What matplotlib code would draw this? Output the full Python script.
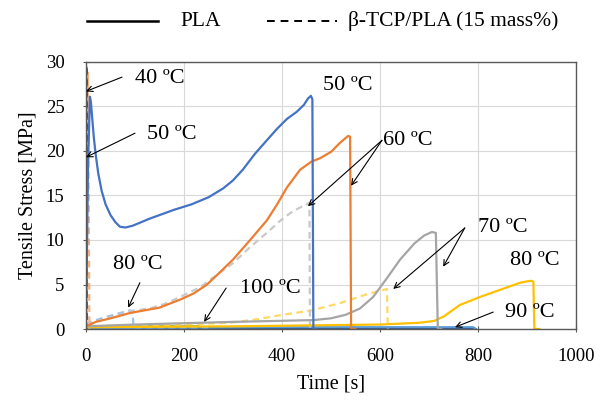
import matplotlib
matplotlib.use('Agg')
import matplotlib.pyplot as plt
from matplotlib.lines import Line2D

plt.rcParams['font.family'] = ['Liberation Serif', 'DejaVu Serif']

# PLA (solid lines)
pla50_t = [0, 4, 8, 10, 13, 16, 20, 25, 32, 40, 50, 60, 69, 80, 95, 130, 180, 215, 250, 280,
           300, 320, 345, 369, 390, 410, 430, 445, 453, 459, 462, 464, 470]
pla50_y = [0, 18, 26.1, 25.5, 23.5, 21.5, 19.5, 17.5, 15.5, 14.0, 12.8, 12.0, 11.5, 11.4, 11.6, 12.4, 13.4, 14.0, 14.8, 15.8,
           16.7, 17.9, 19.7, 21.2, 22.5, 23.6, 24.4, 25.2, 25.9, 26.2, 25.8, 0, 0]
pla60_t = [0, 20, 50, 90, 150, 192, 220, 247, 270, 300, 335, 369, 390, 410, 437, 460, 478, 500, 518, 535, 539, 541, 550]
pla60_y = [0.3, 0.8, 1.2, 1.8, 2.4, 3.3, 4.0, 5.0, 6.2, 7.8, 10.0, 12.2, 14.0, 15.9, 17.9, 18.8, 19.2, 19.9, 20.9, 21.7, 21.6, 0, 0]
pla70_t = [0, 100, 300, 464, 500, 530, 559, 586, 614, 641, 670, 690, 706, 714, 718, 725]
pla70_y = [0.3, 0.5, 0.8, 1.0, 1.2, 1.6, 2.3, 3.6, 5.7, 7.8, 9.6, 10.5, 10.9, 10.8, 0, 0]
pla80_t = [0, 300, 600, 680, 710, 730, 763, 804, 845, 886, 905, 910, 913, 915, 925]
pla80_y = [0.2, 0.3, 0.5, 0.7, 0.9, 1.4, 2.7, 3.6, 4.4, 5.2, 5.4, 5.4, 5.3, 0, 0]
pla90_t = [0, 200, 400, 600, 790, 795]
pla90_y = [0.1, 0.15, 0.2, 0.2, 0.2, 0]
pla100_t = [0, 100, 230, 235]
pla100_y = [0.2, 0.3, 0.3, 0]
pla40_t = [0, 300, 600, 790, 795]
pla40_y = [0.05, 0.1, 0.1, 0.1, 0]

# beta-TCP/PLA 15 mass% (dashed lines)
tcp40_t = [0, 1, 2]
tcp40_y = [0, 29.6, 0]
tcp50_t = [0, 4, 7]
tcp50_y = [0, 28.8, 0]
tcp60_t = [0, 30, 60, 90, 130, 160, 192, 233, 265, 300, 335, 369, 395, 416, 435, 451, 456, 457]
tcp60_y = [0.5, 1.0, 1.4, 2.0, 2.3, 2.8, 3.6, 4.7, 6.0, 7.4, 9.2, 10.8, 12.1, 13.0, 13.6, 14.0, 14.2, 0]
tcp70_t = [0, 100, 200, 294, 350, 402, 461, 518, 573, 600, 614, 616]
tcp70_y = [0.3, 0.4, 0.5, 0.7, 1.1, 1.6, 2.1, 2.9, 3.9, 4.3, 4.5, 0]
tcp80_t = [0, 20, 50, 90, 95, 97, 250]
tcp80_y = [0.5, 1.0, 1.5, 2.1, 2.0, 0.2, 0.2]
tcp100_t = [0, 100, 230]
tcp100_y = [0.15, 0.2, 0.2]

fig = plt.figure(figsize=(6.11, 4.01), dpi=100)
ax = fig.add_axes([86/611, 1 - 329/401, 490/611, 267/401])

sw = 1.6
dash = (0, (3, 2))
ax.plot(pla100_t, pla100_y, color='#70AD47', lw=sw)
ax.plot(tcp100_t, tcp100_y, color='#A9D18E', lw=sw, ls=dash)
ax.plot(pla40_t, pla40_y, color='#264478', lw=sw)
ax.plot(pla90_t, pla90_y, color='#5B9BD5', lw=sw)
ax.plot(tcp80_t, tcp80_y, color='#9DC3E6', lw=sw, ls=dash)
ax.plot(tcp70_t, tcp70_y, color='#FFD966', lw=sw, ls=dash)
ax.plot(tcp60_t, tcp60_y, color='#C9C9C9', lw=sw, ls=dash)
ax.plot(tcp50_t, tcp50_y, color='#F4B183', lw=sw, ls=dash)
ax.plot(tcp40_t, tcp40_y, color='#2F5597', lw=sw, ls=dash)
ax.plot(pla80_t, pla80_y, color='#FFC000', lw=sw)
ax.plot(pla70_t, pla70_y, color='#A5A5A5', lw=sw)
ax.plot(pla60_t, pla60_y, color='#ED7D31', lw=sw)
ax.plot(pla50_t, pla50_y, color='#4472C4', lw=sw)

ax.set_xlim(0, 1000)
ax.set_ylim(0, 30)
ax.set_xticks(range(0, 1001, 200))
ax.set_yticks(range(0, 31, 5))
ax.grid(True, color='#D9D9D9', lw=0.8)
ax.set_axisbelow(True)
for s in ax.spines.values():
    s.set_color('#595959')
    s.set_linewidth(1.0)
ax.tick_params(axis='both', direction='inout', length=5, color='#595959', labelsize=13.5)
ax.tick_params(axis='x', pad=11)
ax.tick_params(axis='y', pad=13)
ax.set_xlabel('Time [s]', fontsize=14.5, labelpad=7)
ax.set_ylabel('Tensile Stress [MPa]', fontsize=14.5, labelpad=6)

fs = 16
arrow = dict(arrowstyle='->', color='black', lw=0.8, shrinkA=0, shrinkB=0)

def label(txt, x, y):
    ax.text(x, y, txt, fontsize=fs, ha='left', va='center', clip_on=False)

def arr(tail, head):
    ax.annotate('', xy=head, xytext=tail, arrowprops=arrow, annotation_clip=False)

label('40 ºC', 100, 28.1)
arr((73.5, 28.3), (0, 26.7))
label('50 ºC', 124.5, 21.8)
arr((100, 22.0), (0, 19.3))
label('80 ºC', 55, 7.2)
arr((110, 5.2), (86, 2.4))
label('50 ºC', 484, 27.4)
label('60 ºC', 606, 21.2)
arr((604, 21.2), (453, 13.8))
arr((604, 21.2), (541, 16.1))
label('100 ºC', 314, 4.5)
arr((286, 4.6), (241, 0.8))
label('70 ºC', 800, 11.35)
arr((773, 11.35), (729, 7.0))
arr((773, 11.35), (627, 4.5))
label('80 ºC', 865, 7.75)
label('90 ºC', 855, 1.9)
arr((831, 1.9), (753, 0.2))

# legend at top
ly = 1 - 21/401
fig.add_artist(Line2D([87/611, 158/611], [ly, ly], color='black', lw=1.8))
fig.text(180/611, ly, 'PLA', fontsize=15.5, va='center', ha='left')
fig.add_artist(Line2D([267/611, 337/611], [ly, ly], color='black', lw=1.4, ls=(0, (4, 3))))
fig.text(348/611, ly, 'β-TCP/PLA (15 mass%)', fontsize=15.5, va='center', ha='left')

fig.savefig('out.png', dpi=100)
